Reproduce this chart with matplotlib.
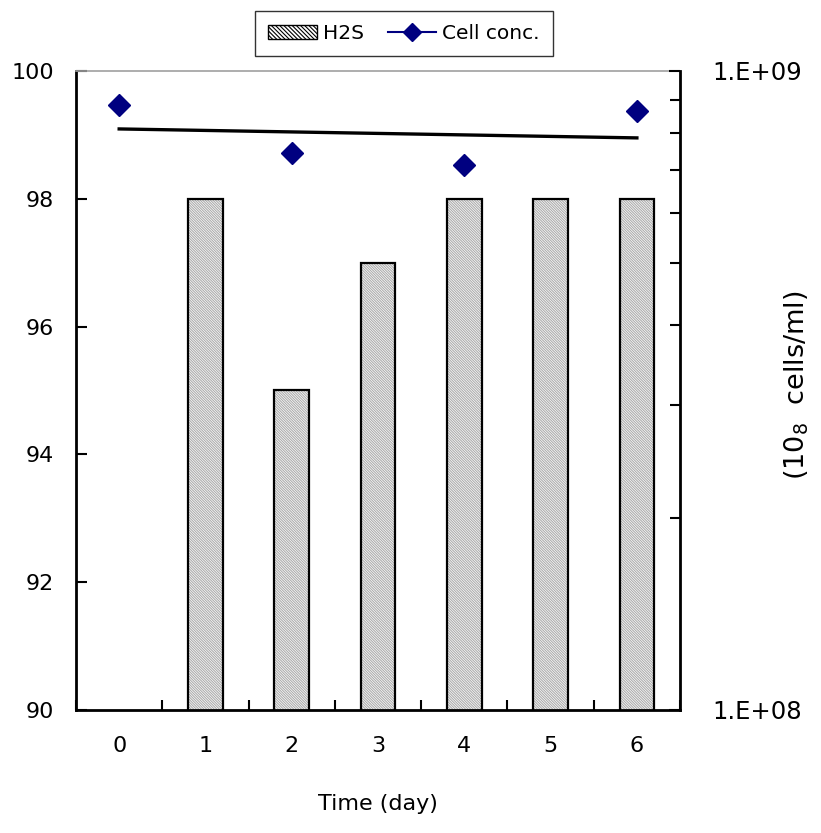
import matplotlib
matplotlib.use('Agg')
import matplotlib.pyplot as plt
import numpy as np
from matplotlib.lines import Line2D
from matplotlib.patches import Patch

plt.rcParams['font.family'] = ['DejaVu Sans']
plt.rcParams['hatch.linewidth'] = 0.8

days = [0, 1, 2, 3, 4, 5, 6]
day_labels = ['0', '1', '2', '3', '4', '5', '6']
h2s = [np.nan, 98, 95, 97, 98, 98, 98]

cell_days = [0, 2, 4, 6]
cell_conc = [8.85e8, 7.44e8, 7.13e8, 8.66e8]

HATCH_GREY = '#adadad'
NAVY = '#000080'

fig = plt.figure(figsize=(8.21, 8.33), dpi=100)
ax = fig.add_axes([0.0926, 0.1477, 0.7357, 0.7671])

# bars: grey hatch layer, then black outline on top
ax.bar(days, h2s, width=0.4, bottom=0, color='white', edgecolor=HATCH_GREY,
       hatch='\\' * 13, linewidth=0, zorder=2)
ax.bar(days, h2s, width=0.4, bottom=0, fill=False, edgecolor='black',
       linewidth=1.6, zorder=3)

ax.set_xlim(-0.5, 6.5)
ax.set_ylim(90, 100)
ax.set_yticks(np.arange(90, 101, 2))
ax.set_xticks(days)
ax.set_xticklabels(day_labels)
ax.set_xticks(np.arange(-0.5, 7, 1), minor=True)
ax.tick_params(axis='x', which='major', length=0, labelsize=16, pad=19)
ax.tick_params(axis='x', which='minor', direction='in', length=7, width=1.5)
ax.tick_params(axis='y', direction='in', length=8, width=1.5, labelsize=16, pad=16)
ax.set_xlabel('Time (day)', fontsize=16, labelpad=27)

for side in ['left', 'bottom']:
    ax.spines[side].set_linewidth(2)
ax.spines['top'].set_color('#a0a0a0')
ax.spines['top'].set_linewidth(1.2)
ax.spines['right'].set_visible(False)

ax2 = ax.twinx()
ax2.set_yscale('log')
ax2.set_ylim(1e8, 1e9)
ax2.set_yticks([1e8, 1e9])
ax2.set_yticklabels(['1.E+08', '1.E+09'])
ax2.tick_params(axis='y', which='major', direction='in', length=8, width=1.5,
                labelsize=17.5, pad=23)
ax2.tick_params(axis='y', which='minor', direction='in', length=7, width=1.5)
ax2.yaxis.set_minor_formatter(plt.NullFormatter())
ax2.spines['right'].set_linewidth(2)
ax2.spines['top'].set_visible(False)
ax2.spines['left'].set_visible(False)
ax2.spines['bottom'].set_visible(False)
fig.text(797 / 821, 1 - 385 / 833, '(10$_8$  cells/ml)', fontsize=19.5,
         rotation=90, ha='center', va='center')

# exponential trendline of the cell concentrations
coef = np.polyfit(cell_days, np.log10(cell_conc), 1)
trend_x = np.array([cell_days[0], cell_days[-1]])
ax2.plot(trend_x, 10 ** np.polyval(coef, trend_x), color='black', linewidth=2.4, zorder=4)
ax2.plot(cell_days, cell_conc, linestyle='none', marker='D', markersize=11,
         color=NAVY, zorder=5)

h2s_patch = Patch(facecolor='white', edgecolor='black', hatch='\\' * 8, label='H2S')
cell_line = Line2D([], [], color=NAVY, marker='D', markersize=9, linewidth=1.5,
                   label='Cell conc.')
leg = fig.legend(handles=[h2s_patch, cell_line], loc='upper center',
                 bbox_to_anchor=(0.492, 0.999), ncol=2, fontsize=14.5, frameon=True,
                 fancybox=False, edgecolor='black', handlelength=2.4,
                 columnspacing=1.2, handletextpad=0.3, borderpad=0.65)
leg.get_frame().set_linewidth(1.0)

fig.savefig('out.png', dpi=100)
